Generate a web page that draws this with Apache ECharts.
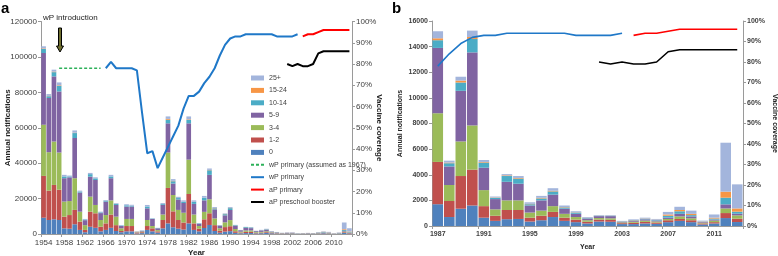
<!DOCTYPE html>
<html><head><meta charset="utf-8">
<script src="https://cdn.jsdelivr.net/npm/echarts@6/dist/echarts.min.js"></script>
<style>html,body{margin:0;padding:0;background:#fff}#c{width:778px;height:256px}</style>
</head><body><div id="c"></div>
<script>
// ---------- categories ----------
const firstYearA = 1954, firstYearB = 1987, lastYear = 2013;
const yearsA = []; for (let y = firstYearA; y <= lastYear; y++) yearsA.push(String(y));
const yearsB = []; for (let y = firstYearB; y <= lastYear; y++) yearsB.push(String(y));

// ---------- notifications by age group, panel a 1954-1986 ----------
const a0    = [9200,7900,8300,7900,3200,3000,5500,2300,1000,4100,3500,1500,2300,3500,1700,1000,1500,1500,300,500,2300,1500,800,3200,6000,3800,3000,2500,6000,2300,1500,3400,5100];
const a12   = [23600,16600,19400,17100,6600,7700,8100,4700,1300,8500,8200,2600,3700,7500,3300,700,3000,3000,500,500,2200,1700,700,4700,20000,9000,4900,4000,16600,3700,1500,4900,6600];
const a34   = [28900,21700,24500,21000,8500,7900,17900,5600,2700,8500,4700,3800,4700,8000,4800,1500,4000,4000,200,400,3400,1300,700,3100,20000,9200,5700,5500,19400,5000,1500,4200,7900];
const a59   = [40500,30600,36800,34500,13200,13400,22700,10800,2800,11300,14100,3900,7600,12500,6600,1300,7000,7000,200,400,6600,4000,1000,5500,16500,6500,5900,5500,20500,6000,1200,6500,13800];
const a1014 = [2300,1000,2400,3200,1000,500,2800,600,400,1400,900,400,500,1000,600,300,700,500,100,100,1000,200,200,500,2000,1300,800,800,2000,1200,300,1500,2600];
const a1524 = [300,200,300,300,0,0,200,0,0,0,0,0,0,0,0,0,0,0,100,0,0,0,0,0,500,200,0,0,300,0,0,0,200];
const a25   = [1200,1000,1100,1600,900,500,1300,500,300,700,600,400,400,900,400,200,600,500,100,100,900,200,100,500,1400,1000,700,700,1600,800,200,1000,800];

// ---------- notifications by age group, 1987-2013 (panel b, also tail of panel a) ----------
const b0    = [1700,700,1350,1600,650,400,530,550,350,450,700,400,300,200,350,330,150,150,200,170,300,400,300,120,200,620,310];
const b12   = [3300,1250,2550,2800,900,400,720,700,300,350,400,250,200,130,150,150,70,100,120,100,150,150,150,80,100,390,260];
const b34   = [3800,1250,2700,3450,1250,500,750,750,400,400,450,300,200,120,120,120,60,80,100,80,100,200,150,60,120,360,260];
const b59   = [5100,1450,3950,5700,1750,800,1450,1300,550,800,900,400,250,130,150,170,50,80,100,80,100,200,150,50,80,320,130];
const b1014 = [600,250,650,1050,400,100,450,400,100,150,250,100,100,40,30,30,30,40,50,40,150,200,100,30,80,520,160];
const b1524 = [150,50,150,150,50,30,50,50,30,50,50,30,20,20,10,10,10,20,20,20,100,100,100,20,70,470,250];
const b25   = [550,150,300,500,150,70,100,150,120,150,200,120,80,60,40,40,30,50,60,60,200,250,250,60,250,3820,1880];

// ---------- vaccine coverage (%) ----------
const wpAssumedStart = 1957;
const wpAssumed = [78,78,78,78,78,78,78,78,78];
const wpPrimaryStart = 1966;
const wpPrimary = [78,81,78,78,78,78,77,57,38,39,31,36,41,46,51,59,65,65,67,71,74,78,84,89,92,93,93,94,94,94,94,94,94,93,93,93,93,94];
const apPrimaryStart = 2004;
const apPrimary = [93,94,94,95,96,96,96,96,96,96];
const apBoosterStart = 2001;
const apBooster = [80,79,80,79,79,80,85,86,86,86,86,86,86];

// ---------- styling ----------
const ageNames = ['0','1-2','3-4','5-9','10-14','15-24','25+'];
const ageColors = ['#4F81BD','#C0504D','#9BBB59','#8064A2','#4BACC6','#F79646','#A3B5DC'];
const ageA = [a0.concat(b0), a12.concat(b12), a34.concat(b34), a59.concat(b59), a1014.concat(b1014), a1524.concat(b1524), a25.concat(b25)];
const ageB = [b0, b12, b34, b59, b1014, b1524, b25];

function span(cats, start, vals) {
  return cats.map(c => { const i = +c - start; return (i >= 0 && i < vals.length) ? vals[i] : null; });
}

const series = [];
ageNames.forEach((n, i) => {
  series.push({name: n, type: 'bar', stack: 'a', xAxisIndex: 0, yAxisIndex: 0, data: ageA[i],
    barCategoryGap: '10%', itemStyle: {color: ageColors[i]}});
});
ageNames.forEach((n, i) => {
  series.push({name: n, type: 'bar', stack: 'b', xAxisIndex: 1, yAxisIndex: 2, data: ageB[i],
    barCategoryGap: '8%', itemStyle: {color: ageColors[i]}});
});
function lineS(name, xi, yi, data, color, w, dashed) {
  return {name, type: 'line', xAxisIndex: xi, yAxisIndex: yi, data, symbol: 'none', connectNulls: false,
    lineStyle: {color, width: w, type: dashed ? [3, 2] : 'solid'}, itemStyle: {color}, z: 5};
}
series.push(lineS('wP primary (assumed as 1967)', 0, 1, span(yearsA, wpAssumedStart, wpAssumed), '#2DB15A', 1.5, true));
series.push(lineS('wP primary', 0, 1, span(yearsA, wpPrimaryStart, wpPrimary), '#1F78C8', 2));
series.push(lineS('aP primary', 0, 1, span(yearsA, apPrimaryStart, apPrimary), '#FF0000', 2));
series.push(lineS('aP preschool booster', 0, 1, span(yearsA, apBoosterStart, apBooster), '#000000', 2));
series.push(lineS('wP primary', 1, 3, span(yearsB, wpPrimaryStart, wpPrimary), '#1F78C8', 1.6));
series.push(lineS('aP primary', 1, 3, span(yearsB, apPrimaryStart, apPrimary), '#FF0000', 1.6));
series.push(lineS('aP preschool booster', 1, 3, span(yearsB, apBoosterStart, apBooster), '#000000', 1.6));

const fa = {fontFamily: 'Liberation Sans', fontSize: 8, color: '#404040'};
const fb = {fontFamily: 'Liberation Sans', fontSize: 7, fontWeight: 'bold', color: '#404040'};
const axisLine = {show: true, lineStyle: {color: '#9a9a9a', width: 1}};

function valAxis(grid, pos, max, interval, pct, font, name, gap, rot) {
  return {type: 'value', gridIndex: grid, position: pos, min: 0, max, interval,
    axisLine, axisTick: {show: true, length: 3, lineStyle: {color: '#9a9a9a'}},
    splitLine: {show: false},
    axisLabel: Object.assign({margin: 4, formatter: v => pct ? v + '%' : String(v)}, font),
    name, nameLocation: 'middle', nameGap: gap, nameRotate: rot, nameMoveOverlap: false,
    nameTextStyle: Object.assign({}, font, {fontWeight: 'bold', color: '#222'})};
}
function catAxis(grid, data, font, gap) {
  return {type: 'category', gridIndex: grid, data, boundaryGap: true,
    axisLine, axisTick: {show: true, interval: 3, length: 3, lineStyle: {color: '#9a9a9a'}},
    axisLabel: Object.assign({interval: 3, margin: 5}, font),
    name: 'Year', nameLocation: 'middle', nameGap: gap, nameMoveOverlap: false,
    nameTextStyle: Object.assign({}, font, {fontWeight: 'bold', color: '#222'})};
}

const hideSym = {color: 'rgba(0,0,0,0)', borderColor: 'rgba(0,0,0,0)', borderWidth: 0};
const legendItems = ['25+','15-24','10-14','5-9','3-4','1-2','0'].map(n => ({name: n, icon: 'rect'}))
  .concat(['wP primary (assumed as 1967)','wP primary','aP primary','aP preschool booster']
    .map(n => ({name: n, itemStyle: hideSym})));

const chart = echarts.init(document.getElementById('c'), null, {renderer: 'canvas'});
chart.setOption({
  animation: false,
  backgroundColor: '#fff',
  grid: [
    {left: 41, top: 21.5, width: 311, height: 212.5, containLabel: false, outerBoundsMode: 'none'},
    {left: 432, top: 21, width: 311, height: 205, containLabel: false, outerBoundsMode: 'none'}
  ],
  xAxis: [catAxis(0, yearsA, fa, 15), catAxis(1, yearsB, fb, 18)],
  yAxis: [
    valAxis(0, 'left', 120000, 20000, false, fa, 'Annual notifications', 29, 90),
    valAxis(0, 'right', 100, 10, true, fa, 'Vaccine coverage', 23, -90),
    valAxis(1, 'left', 16000, 2000, false, fb, 'Annual notifications', 28, 90),
    valAxis(1, 'right', 100, 10, true, fb, 'Vaccine coverage', 28, -90)
  ],
  legend: {orient: 'vertical', left: 245, top: 69.5, itemWidth: 13, itemHeight: 5, itemGap: 5.4,
    data: legendItems, textStyle: {fontFamily: 'Liberation Sans', fontSize: 7, color: '#404040'}},
  series,
  graphic: [
    {type: 'text', left: 1, top: 1, style: {text: 'a', font: 'bold 15px Liberation Sans', fill: '#000'}},
    {type: 'text', left: 392, top: 1, style: {text: 'b', font: 'bold 15px Liberation Sans', fill: '#000'}},
    {type: 'text', left: 43, top: 14, style: {text: 'wP introduction', font: '8px Liberation Sans', fill: '#222'}},
    {type: 'polygon', shape: {points: [[58.5,28],[61.5,28],[61.5,46],[63.5,46],[60,52],[56.5,46],[58.5,46]]},
      style: {fill: '#6e6e30', stroke: '#000', lineWidth: 1}}
  ]
});
</script></body></html>
